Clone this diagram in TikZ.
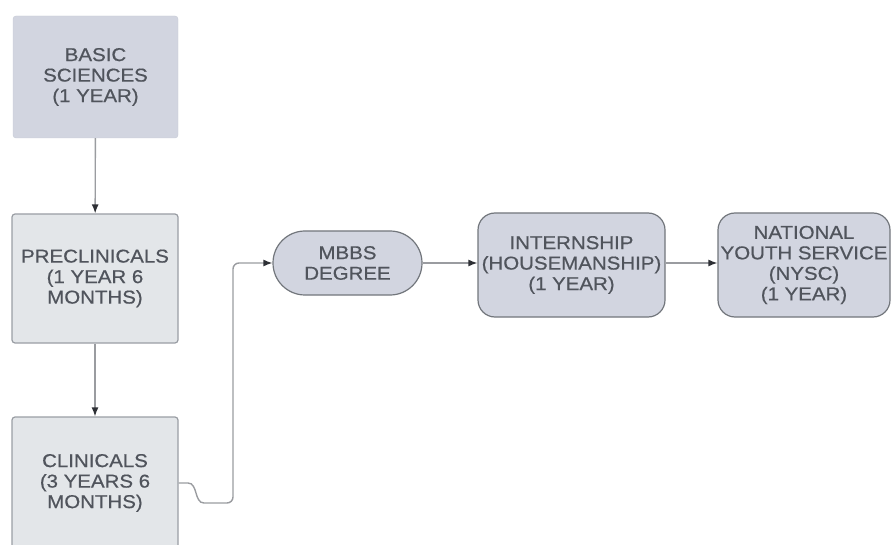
\documentclass[tikz,border=0pt]{standalone}
\usepackage{fontspec}
\setmainfont{Liberation Sans}[FakeStretch=1.1,FakeBold=0.6]
\usetikzlibrary{arrows.meta}
\definecolor{txt}{HTML}{50545C}
\definecolor{lav}{HTML}{D2D5E0}
\definecolor{pale}{HTML}{E3E6E9}
\definecolor{edgeA}{HTML}{9A9EA4}
\definecolor{edgeB}{HTML}{72767C}
\definecolor{lineC}{HTML}{9A9CA0}
\definecolor{tipC}{HTML}{2E3035}
\begin{document}
\begin{tikzpicture}[x=1pt,y=-1pt,
  every node/.style={font=\fontsize{18.6}{20.5}\selectfont, text=txt, align=center, inner sep=0pt},
  sqbox/.style={rounded corners=3pt, draw=edgeA, line width=1.2pt, fill=pale},
  topbox/.style={rounded corners=3pt, draw=lav!95!black, line width=0.4pt, fill=lav},
  rbox/.style={rounded corners=17pt, draw=edgeB, line width=1.2pt, fill=lav},
  conn/.style={draw=lineC, line width=1.4pt, -{Latex[length=9pt,width=7pt,color=tipC]}}]
\useasboundingbox (0,0) rectangle (891,545);
\node[topbox, minimum width=165pt, minimum height=122pt] (basic) at (95.5,77) {BASIC\\SCIENCES\\(1 YEAR)};
\node[sqbox, minimum width=166pt, minimum height=129pt] (pre) at (95,278.5) {PRECLINICALS\\(1 YEAR 6\\MONTHS)};
\node[sqbox, minimum width=166pt, minimum height=132pt] (clin) at (95,483) {CLINICALS\\(3 YEARS 6\\MONTHS)};
\node[rbox, rounded corners=32pt, minimum width=149pt, minimum height=64pt] (mbbs) at (347.5,263) {MBBS\\DEGREE};
\node[rbox, minimum width=187pt, minimum height=104pt] (intern) at (571.5,265) {INTERNSHIP\\(HOUSEMANSHIP)\\(1 YEAR)};
\node[rbox, minimum width=172pt, minimum height=104pt] (nysc) at (804,265) {NATIONAL\\YOUTH SERVICE\\(NYSC)\\(1 YEAR)};
\coordinate (k1) at (188,483);
\coordinate (k2) at (204,503);
\coordinate (k3) at (233,503);
\draw[conn] (basic) -- (pre);
\draw[conn] (pre) -- (clin);
\draw[conn] (clin.east) -- (k1) .. controls ++(10,0) and ++(-10,0) .. (k2)
  [rounded corners=6pt] -- (k3) -- (k3 |- mbbs) -- (mbbs.west);
\draw[conn] (mbbs) -- (mbbs -| intern.west);
\draw[conn] (intern.east |- mbbs) -- (nysc.west |- mbbs);
\end{tikzpicture}
\end{document}
